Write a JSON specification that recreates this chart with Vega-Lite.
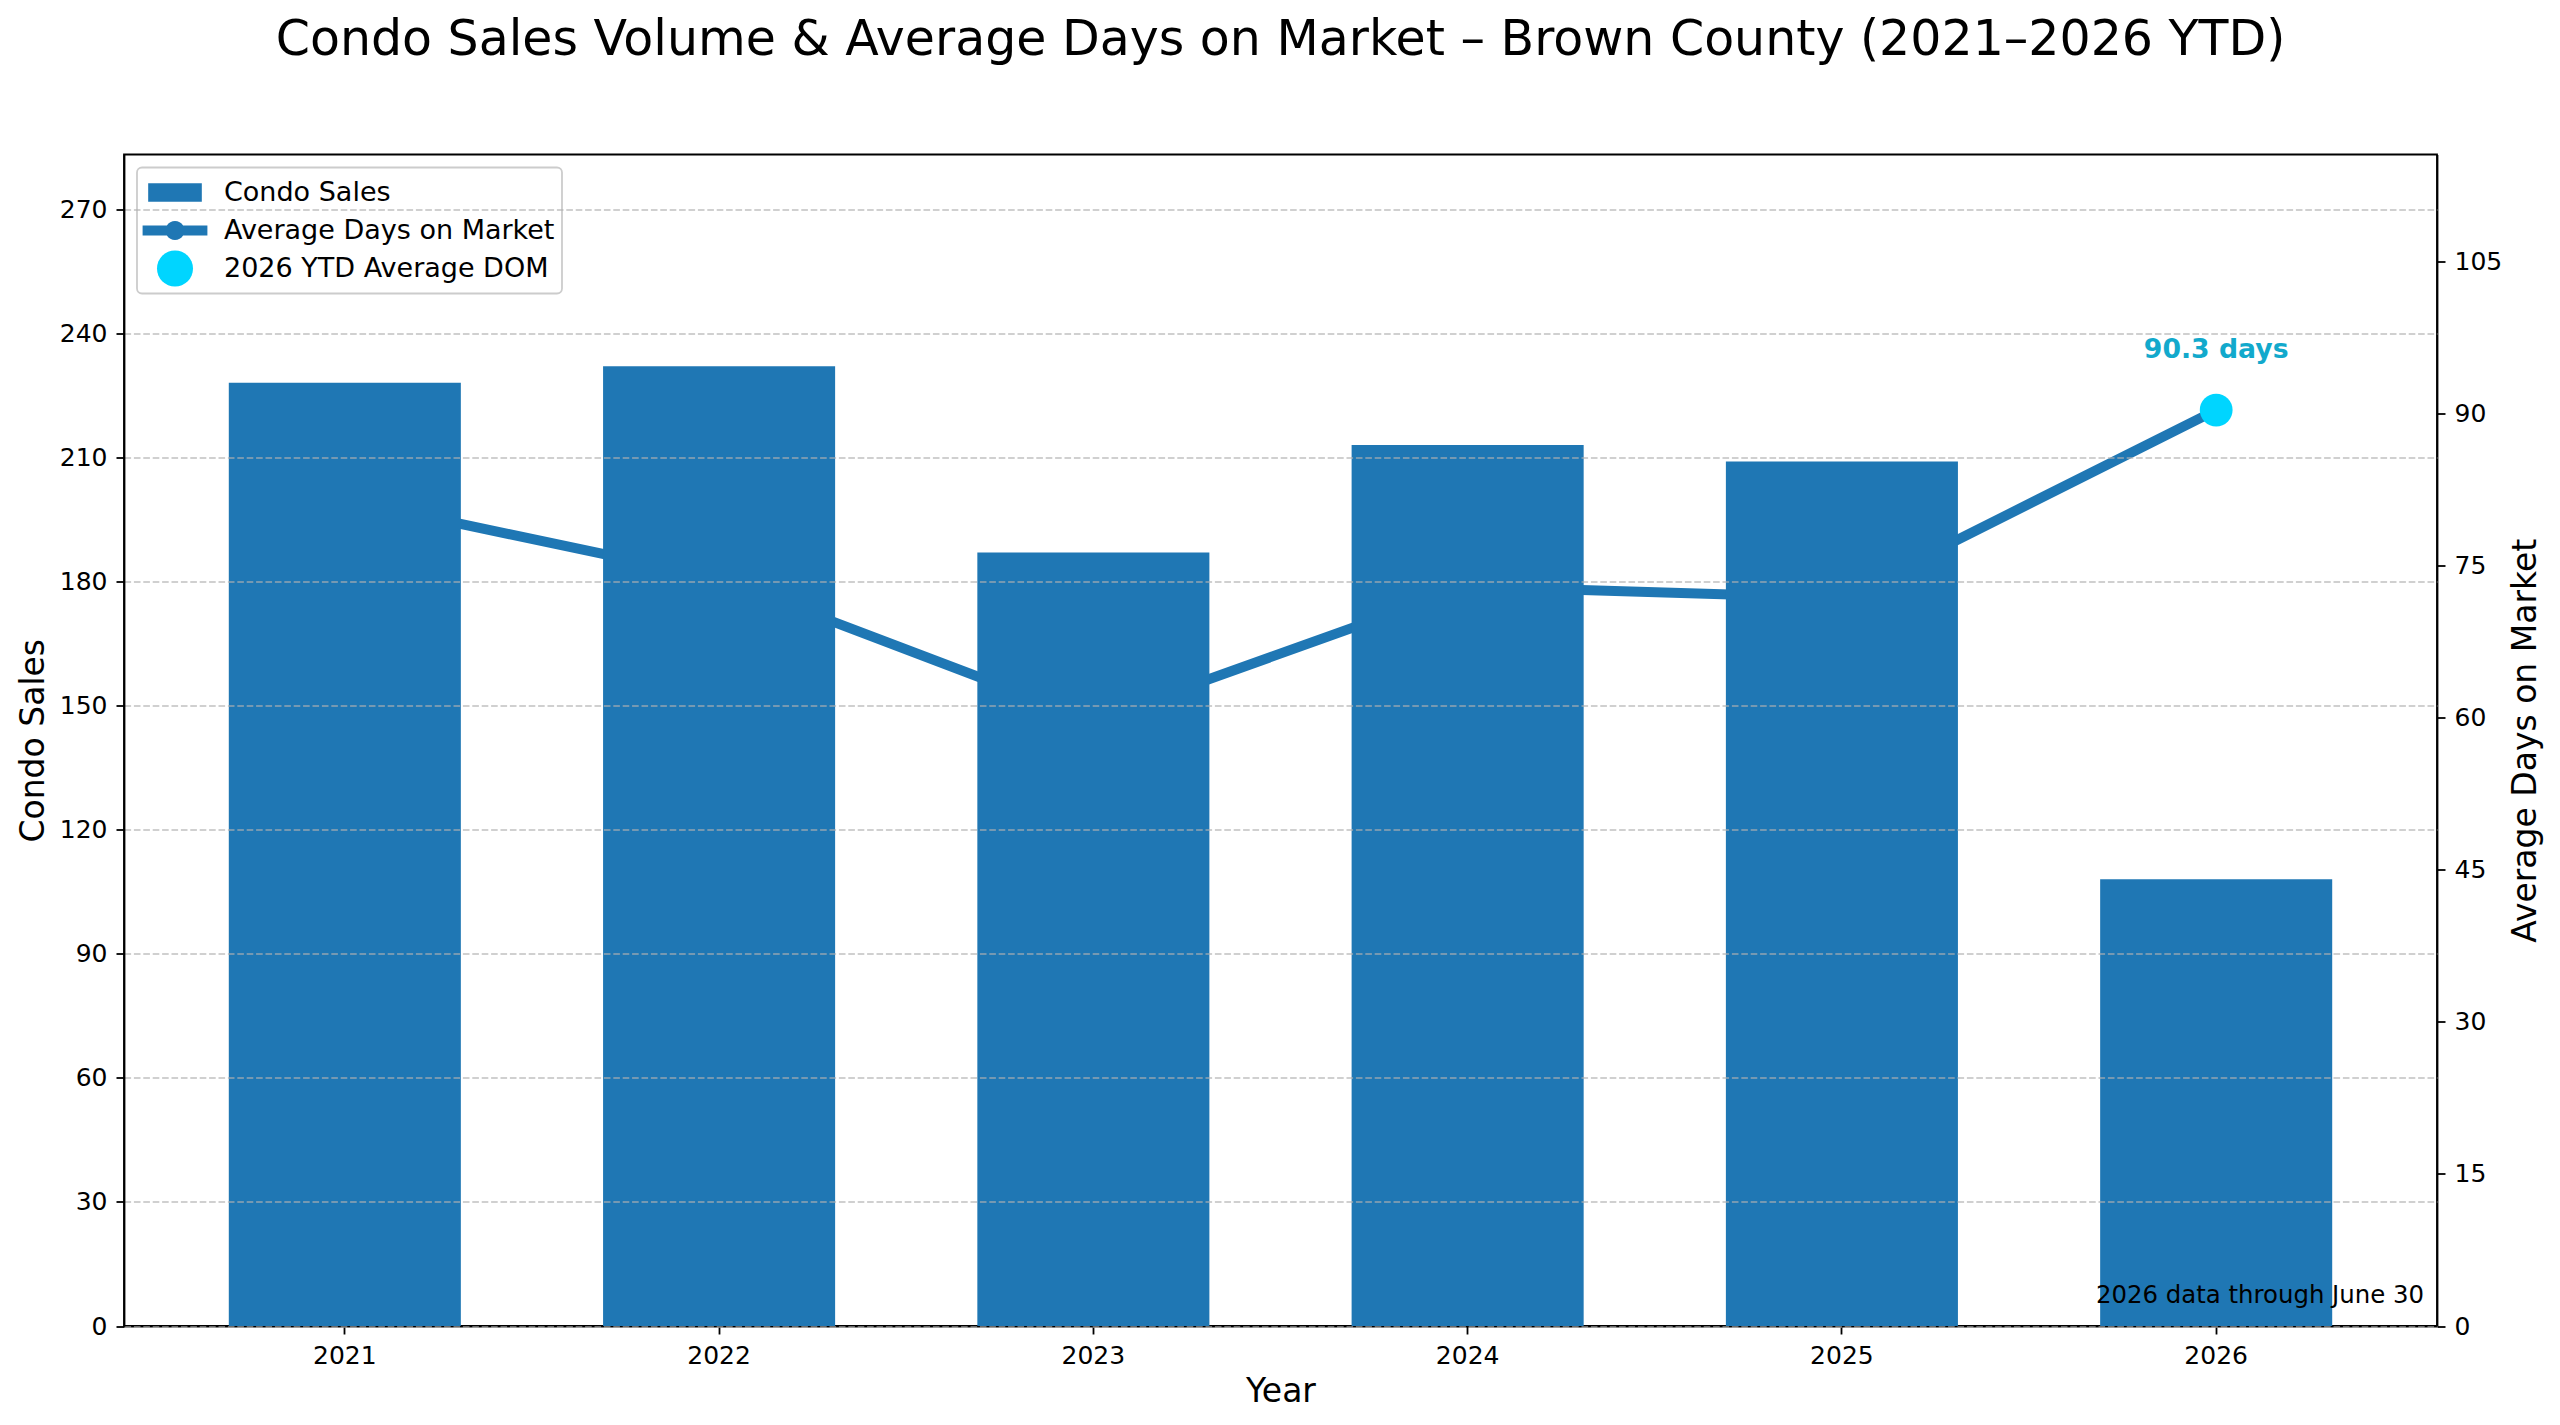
{
  "$schema": "https://vega.github.io/schema/vega-lite/v6.json",
  "description": "Condo sales (bars, left axis) and average days on market (line, right axis), Brown County 2021-2026 YTD.",
  "autosize": "none",
  "padding": {"left": 124, "top": 154.5, "right": 123, "bottom": 99},
  "width": 2313,
  "height": 1171.5,
  "background": "white",
  "title": {
    "text": "Condo Sales Volume & Average Days on Market – Brown County (2021–2026 YTD)",
    "offset": 90
  },
  "datasets": {
    "years": [
      {"Year": "2021", "Sales": 228, "DOM": 81.5},
      {"Year": "2022", "Sales": 232, "DOM": 73.7},
      {"Year": "2023", "Sales": 187, "DOM": 59.7},
      {"Year": "2024", "Sales": 213, "DOM": 72.9},
      {"Year": "2025", "Sales": 209, "DOM": 71.8},
      {"Year": "2026", "Sales": 108, "DOM": 90.3}
    ],
    "ytd": [
      {"Year": "2026", "DOM": 90.3, "Label": "90.3 days"}
    ],
    "note": [
      {"Note": "2026 data through June 30"}
    ]
  },
  "encoding": {
    "x": {
      "field": "Year",
      "type": "ordinal",
      "title": "Year",
      "scale": {"paddingInner": 0.38, "paddingOuter": 0.28},
      "axis": {"labelAngle": 0, "titlePadding": 7}
    }
  },
  "layer": [
    {
      "data": {"name": "years"},
      "mark": {"type": "line", "strokeWidth": 10, "strokeJoin": "round"},
      "encoding": {
        "y": {
          "field": "DOM",
          "type": "quantitative",
          "title": "Average Days on Market",
          "scale": {"domain": [0, 115.5], "nice": false, "zero": true},
          "axis": {
            "orient": "right",
            "values": [0, 15, 30, 45, 60, 75, 90, 105],
            "grid": false,
            "titleAngle": 270,
            "titleBaseline": "top",
            "titlePadding": 8
          }
        },
        "color": {
          "datum": "Average Days on Market",
          "type": "nominal",
          "scale": {
            "domain": ["Condo Sales", "Average Days on Market", "2026 YTD Average DOM"],
            "range": ["#1f77b4", "#1f77b4", "#00d5ff"]
          },
          "legend": {
            "title": null,
            "orient": "none",
            "legendX": 13,
            "legendY": 13,
            "padding": 7,
            "symbolSize": 1296,
            "symbolOffset": 13,
            "labelOffset": 31,
            "labelLimit": 0,
            "rowPadding": 7,
            "fillColor": "rgba(255,255,255,0.8)",
            "strokeColor": "#cccccc",
            "cornerRadius": 5,
            "encode": {
              "legend": {"update": {"strokeWidth": {"value": 1.8}}},
              "symbols": {
                "update": {
                  "shape": {"signal": "datum.value === 'Condo Sales' ? 'M-1.49,-0.51H1.49V0.51H-1.49Z' : (datum.value === 'Average Days on Market' ? 'M-1.8,-0.28L-0.45,-0.28A0.53,0.53,0,0,1,0.45,-0.28L1.8,-0.28L1.8,0.28L0.45,0.28A0.53,0.53,0,0,1,-0.45,0.28L-1.8,0.28Z' : 'circle')"},
                  "fill": {"signal": "datum.value === '2026 YTD Average DOM' ? '#00d5ff' : '#1f77b4'"},
                  "stroke": {"value": "transparent"},
                  "strokeWidth": {"value": 0},
                  "opacity": {"value": 1},
                  "size": {"value": 1296}
                }
              }
            }
          }
        }
      }
    },
    {
      "data": {"name": "years"},
      "mark": {"type": "bar", "opacity": 1},
      "encoding": {
        "y": {
          "field": "Sales",
          "type": "quantitative",
          "title": "Condo Sales",
          "scale": {"domain": [0, 283.2], "nice": false},
          "axis": {
            "orient": "left",
            "values": [0, 30, 60, 90, 120, 150, 180, 210, 240, 270],
            "grid": true,
            "gridColor": "#b0b0b0",
            "gridOpacity": 0.6,
            "gridDash": [6.6, 2.8],
            "gridWidth": 1.8,
            "zindex": 1,
            "titlePadding": 9
          }
        },
        "color": {"datum": "Condo Sales", "type": "nominal"}
      }
    },
    {
      "data": {"name": "ytd"},
      "mark": {"type": "circle", "size": 1075, "opacity": 1},
      "encoding": {
        "y": {
          "field": "DOM",
          "type": "quantitative",
          "scale": {"domain": [0, 115.5], "nice": false},
          "axis": null
        },
        "color": {"datum": "2026 YTD Average DOM", "type": "nominal"}
      }
    },
    {
      "data": {"name": "ytd"},
      "mark": {
        "type": "text",
        "dy": -52,
        "baseline": "alphabetic",
        "align": "center",
        "font": "DejaVu Sans",
        "fontSize": 26.7,
        "fontWeight": "bold",
        "color": "#12a9cc"
      },
      "encoding": {
        "y": {
          "field": "DOM",
          "type": "quantitative",
          "scale": {"domain": [0, 115.5], "nice": false},
          "axis": null
        },
        "text": {"field": "Label"}
      }
    },
    {
      "data": {"name": "note"},
      "mark": {
        "type": "text",
        "x": "width",
        "y": "height",
        "dx": -13,
        "dy": -23,
        "align": "right",
        "baseline": "alphabetic",
        "font": "DejaVu Sans",
        "fontSize": 24.4,
        "color": "black"
      },
      "encoding": {
        "x": null,
        "text": {"field": "Note"}
      }
    }
  ],
  "resolve": {"scale": {"y": "independent"}},
  "config": {
    "view": {"stroke": "black", "strokeWidth": 1.8},
    "bar": {"color": "#1f77b4"},
    "axis": {
      "domainColor": "black",
      "domainWidth": 1.8,
      "tickColor": "black",
      "tickSize": 8,
      "tickWidth": 1.8,
      "labelFont": "DejaVu Sans",
      "labelFontSize": 25,
      "labelColor": "black",
      "labelPadding": 9,
      "titleFont": "DejaVu Sans",
      "titleFontSize": 33,
      "titleFontWeight": "normal",
      "titleColor": "black",
      "grid": false
    },
    "title": {
      "font": "DejaVu Sans",
      "fontSize": 49,
      "fontWeight": "normal",
      "color": "black",
      "anchor": "middle"
    },
    "legend": {
      "labelFont": "DejaVu Sans",
      "labelFontSize": 27,
      "labelColor": "black"
    }
  }
}
